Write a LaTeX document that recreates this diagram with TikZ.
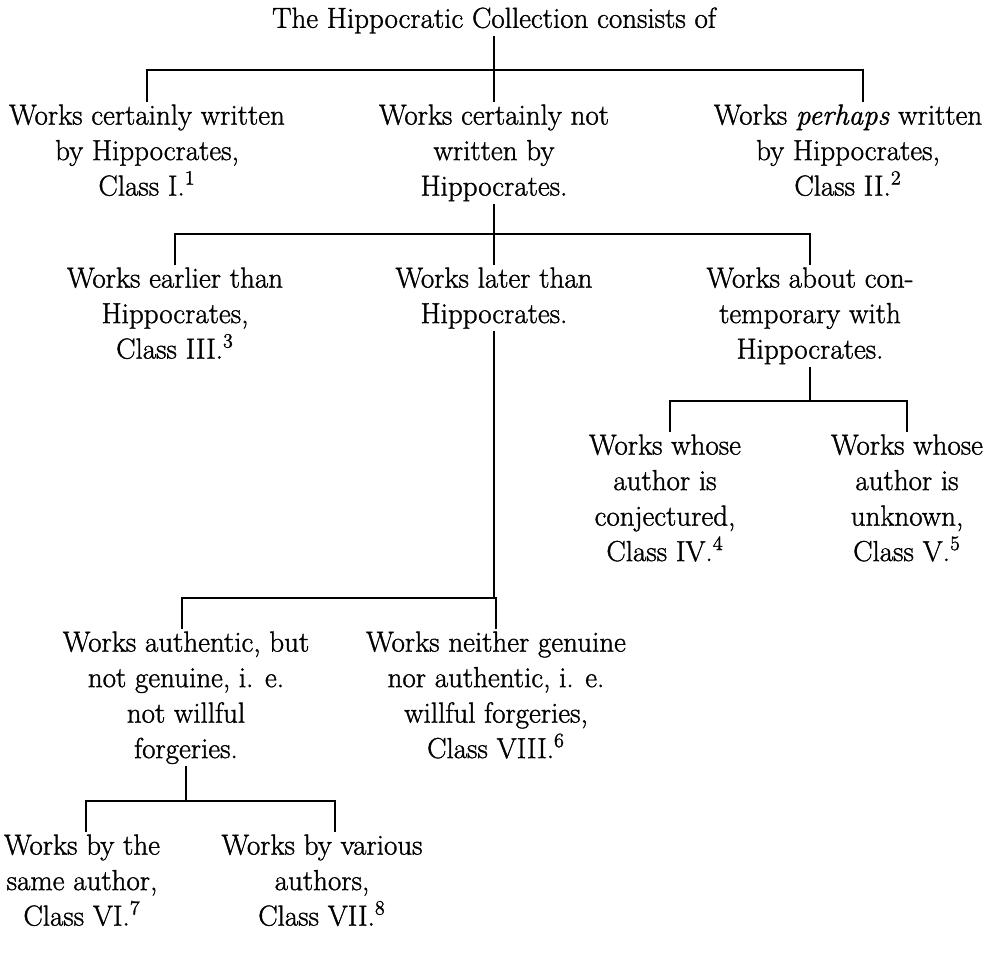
\documentclass[tikz,border=0pt]{standalone}
\usepackage{fontspec}
\setmainfont{Latin Modern Roman}[FakeBold=1.2]
\usepackage{tikz}

\begin{document}
\begin{tikzpicture}[x=0.2mm, y=-0.2mm, line width=0.8pt,
    wk/.style={align=center, anchor=north, inner sep=1pt, font=\fontsize{16.5}{20.2}\selectfont}]
  \useasboundingbox (0,0) rectangle (990,959);

  \node[wk] (coll) at (494,5) {The Hippocratic Collection consists of};

  \node[wk] (cert) at (147,102) {Works certainly written\\by Hippocrates,\\Class I.\textsuperscript{1}};
  \node[wk] (notc) at (494,102) {Works certainly not\\written by\\Hippocrates.};
  \node[wk] (perh) at (848,102) {Works \textit{perhaps} written\\by Hippocrates,\\Class II.\textsuperscript{2}};

  \node[wk] (earl) at (175,265) {Works earlier than\\Hippocrates,\\Class III.\textsuperscript{3}};
  \node[wk] (late) at (494,265) {Works later than\\Hippocrates.};
  \node[wk] (cont) at (810,265) {Works about con-\\temporary with\\Hippocrates.};

  \node[wk] (conj) at (665,432) {Works whose\\author is\\conjectured,\\Class IV.\textsuperscript{4}};
  \node[wk] (unkn) at (907,432) {Works whose\\author is\\unknown,\\Class V.\textsuperscript{5}};

  \node[wk] (auth) at (186,629) {Works authentic, but\\not genuine, i. e.\\not willful\\forgeries.};
  \node[wk] (forg) at (496,629) {Works neither genuine\\nor authentic, i. e.\\willful forgeries,\\Class VIII.\textsuperscript{6}};

  \node[wk] (same) at (82,832) {Works by the\\same author,\\Class VI.\textsuperscript{7}};
  \node[wk] (vari) at (322,832) {Works by various\\authors,\\Class VII.\textsuperscript{8}};

  % branch points
  \coordinate (j1) at (494,70);
  \coordinate (j2) at (494,234);
  \coordinate (j3) at (810,401);
  \coordinate (j4) at (494,598);
  \coordinate (j5) at (186,801);

  \draw (coll) -- (j1);
  \draw (j1) -| (cert.north);
  \draw (j1) -| (notc.north);
  \draw (j1) -| ([xshift=3mm]perh.north);

  \draw (notc) -- (j2);
  \draw (j2) -| (earl.north);
  \draw (j2) -| (late.north);
  \draw (j2) -| (cont.north);

  \draw (cont) -- (j3);
  \draw (j3) -| ([xshift=1mm]conj.north);
  \draw (j3) -| (unkn.north);

  \draw (late) -- (j4);
  \draw (j4) -| ([xshift=-0.8mm]auth.north);
  \draw (j4) -| (forg.north);

  \draw (auth) -- (j5);
  \draw (j5) -| ([xshift=0.8mm]same.north);
  \draw (j5) -| ([xshift=2.6mm]vari.north);
\end{tikzpicture}
\end{document}
